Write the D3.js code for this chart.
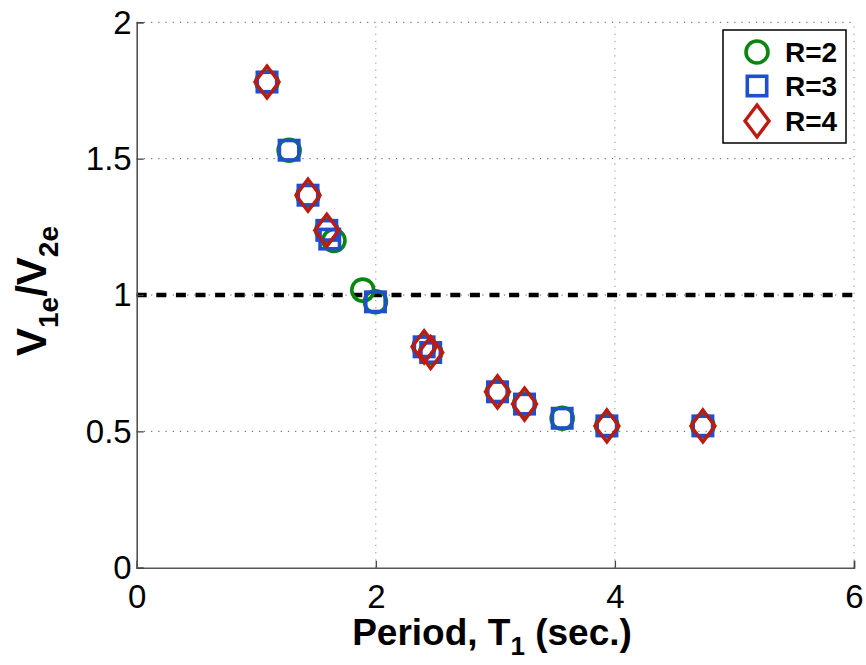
<!DOCTYPE html>
<html><head><meta charset="utf-8">
<script src="https://cdn.jsdelivr.net/npm/d3@7"></script>
<style>body{margin:0;background:#fff}svg{display:block}</style>
</head><body><svg id="c" width="866" height="665"></svg>
<script>
const xTicks = [0, 2, 4, 6];
const yTicks = [0, 0.5, 1, 1.5, 2];
const yTickLabels = ["0", "0.5", "1", "1.5", "2"];
const seriesNames = ["R=2", "R=3", "R=4"];
const r2T = [1.09, 1.275, 1.433, 1.59, 1.65, 1.891, 1.997, 2.404, 2.459, 3.018, 3.244, 3.559, 3.933, 4.736];
const r2V = [1.781, 1.531, 1.366, 1.237, 1.200, 1.018, 0.975, 0.810, 0.789, 0.645, 0.600, 0.548, 0.520, 0.520];
const r3T = [1.09, 1.275, 1.433, 1.59, 1.615, 1.997, 2.404, 2.459, 3.018, 3.244, 3.559, 3.933, 4.736];
const r3V = [1.781, 1.531, 1.366, 1.237, 1.205, 0.975, 0.810, 0.789, 0.645, 0.600, 0.548, 0.520, 0.520];
const r4T = [1.09, 1.433, 1.59, 2.404, 2.459, 3.018, 3.244, 3.933, 4.736];
const r4V = [1.781, 1.366, 1.237, 0.810, 0.789, 0.645, 0.600, 0.520, 0.520];
const refLine = 1;

const svg = d3.select("#c");
const x = d3.scaleLinear().domain([0, 6]).range([136.7, 854]);
const y = d3.scaleLinear().domain([0, 2]).range([567.7, 22.3]);
const colors = ["#0b8512", "#1f4fcf", "#bd1a12"];
const font = "Arial, 'Liberation Sans', sans-serif";

// grid
const g = svg.append("g");
g.selectAll(".gx").data(xTicks.slice(1)).join("line")
  .attr("x1", d => x(d)).attr("x2", d => x(d)).attr("y1", y(0)).attr("y2", y(2))
  .attr("stroke", "#8a8a8a").attr("stroke-width", 1).attr("stroke-dasharray", "1.2,6");
g.selectAll(".gy").data(yTicks.slice(1)).join("line")
  .attr("y1", d => y(d)).attr("y2", d => y(d)).attr("x1", x(0)).attr("x2", x(6))
  .attr("stroke", "#555").attr("stroke-width", 1).attr("stroke-dasharray", "1.2,6");

// reference dashed line
svg.append("line").attr("x1", x(0)).attr("x2", x(6)).attr("y1", y(refLine)).attr("y2", y(refLine))
  .attr("stroke", "#000").attr("stroke-width", 4.5).attr("stroke-dasharray", "10,9.6");

// axes
const xAxis = d3.axisBottom(x).tickValues(xTicks).tickSize(-7).tickPadding(0).tickFormat(d3.format("d"));
const yAxis = d3.axisLeft(y).tickValues(yTicks).tickSize(-7).tickPadding(5).tickFormat((d, i) => yTickLabels[i]);
const ax = svg.append("g").attr("transform", `translate(0,${y(0)})`).call(xAxis);
const ay = svg.append("g").attr("transform", `translate(${x(0)},0)`).call(yAxis);
[ax, ay].forEach(a => {
  a.attr("font-size", null).attr("font-family", null);
  a.select(".domain").attr("stroke", "#555").attr("stroke-width", 1.6);
  a.selectAll(".tick line").attr("stroke", "#444").attr("stroke-width", 1.3);
  a.selectAll(".tick text").style("font-family", font).style("font-size", "33px").attr("fill", "#000");
});
ax.selectAll(".tick text").attr("y", 40).attr("dy", null);
ay.selectAll(".tick text").attr("dy", "0.33em");

// markers
function drawCircle(sel, cx, cy, c) {
  sel.append("circle").attr("cx", cx).attr("cy", cy).attr("r", 11)
    .attr("fill", "none").attr("stroke", c).attr("stroke-width", 3.6);
}
function drawSquare(sel, cx, cy, c) {
  sel.append("rect").attr("x", cx - 9.7).attr("y", cy - 9.7).attr("width", 19.4).attr("height", 19.4)
    .attr("fill", "none").attr("stroke", c).attr("stroke-width", 3.6);
}
function drawDiamond(sel, cx, cy, c) {
  sel.append("path").attr("d", `M${cx},${cy - 16} L${cx + 12},${cy} L${cx},${cy + 16} L${cx - 12},${cy} Z`)
    .attr("fill", "none").attr("stroke", c).attr("stroke-width", 3.4).attr("stroke-linejoin", "miter");
}
const pts = svg.append("g");
r2T.forEach((t, i) => drawCircle(pts, x(t), y(r2V[i]), colors[0]));
r3T.forEach((t, i) => drawSquare(pts, x(t), y(r3V[i]), colors[1]));
r4T.forEach((t, i) => drawDiamond(pts, x(t), y(r4V[i]), colors[2]));

// legend
const lg = svg.append("g");
lg.append("rect").attr("x", 723).attr("y", 30).attr("width", 123).attr("height", 113)
  .attr("fill", "#fff").attr("stroke", "#000").attr("stroke-width", 1.5);
const rowsY = [52, 86, 121];
drawCircle(lg, 757, rowsY[0], colors[0]);
drawSquare(lg, 757, rowsY[1], colors[1]);
drawDiamond(lg, 757, rowsY[2], colors[2]);
seriesNames.forEach((n, i) => {
  lg.append("text").attr("x", 785).attr("y", rowsY[i] + 10)
    .style("font-family", font).style("font-weight", "bold").style("font-size", "28px").text(n);
});

// axis labels
const xl = svg.append("text").attr("x", 492).attr("y", 645).attr("text-anchor", "middle")
  .style("font-family", font).style("font-weight", "bold").style("font-size", "37px");
xl.append("tspan").text("Period, T");
xl.append("tspan").style("font-size", "26px").attr("dy", 10).text("1");
xl.append("tspan").attr("dy", -10).text(" (sec.)");

const yl = svg.append("text").attr("transform", "translate(46,291) rotate(-90)").attr("text-anchor", "middle")
  .style("font-family", font).style("font-weight", "bold").style("font-size", "42px");
yl.append("tspan").text("V");
yl.append("tspan").style("font-size", "28px").attr("dy", 12).text("1e");
yl.append("tspan").attr("dy", -12).text("/V");
yl.append("tspan").style("font-size", "28px").attr("dy", 12).text("2e");
</script></body></html>
